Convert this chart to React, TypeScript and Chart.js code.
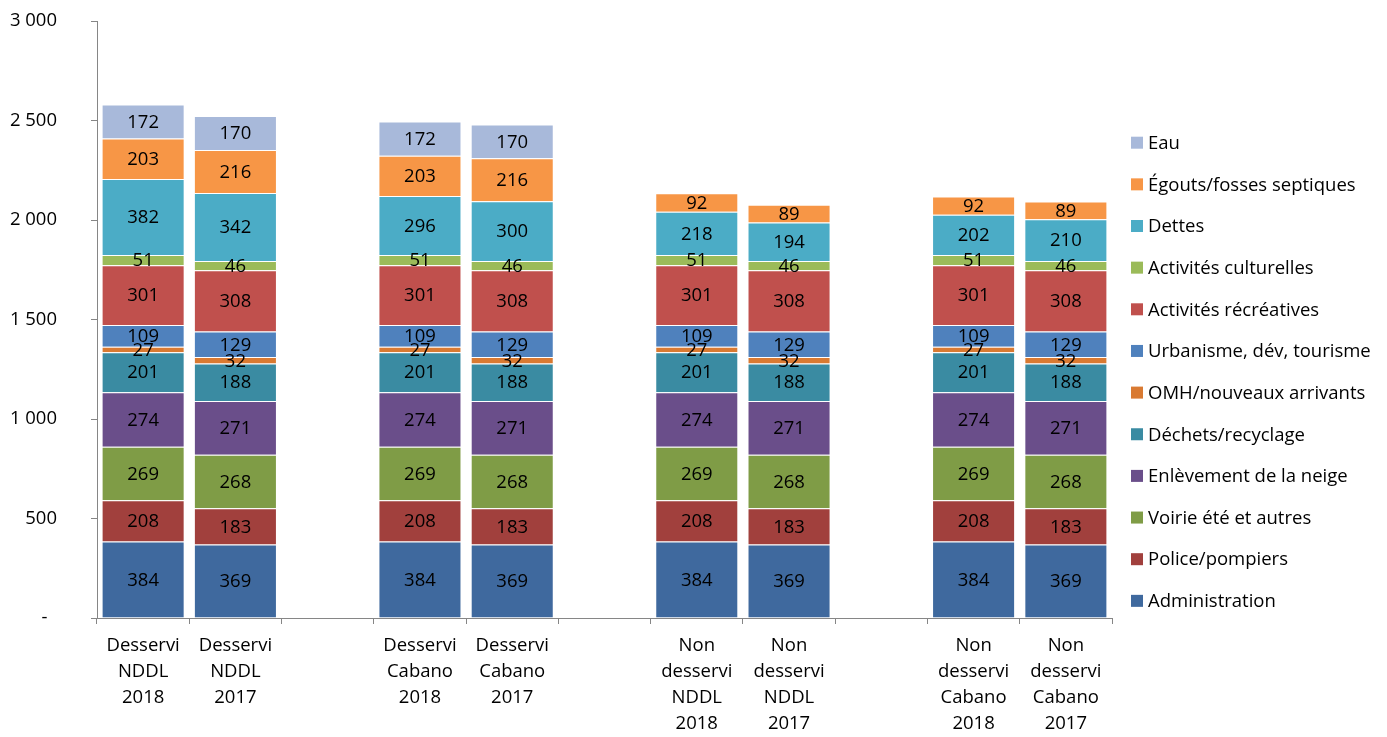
import React, { useEffect, useRef } from "react";
import { Chart, registerables } from "chart.js";

Chart.register(...registerables);

const categories: (string | string[])[] = [
  ["Desservi", "NDDL", "2018"],
  ["Desservi", "NDDL", "2017"],
  "",
  ["Desservi", "Cabano", "2018"],
  ["Desservi", "Cabano", "2017"],
  "",
  ["Non", "desservi", "NDDL", "2018"],
  ["Non", "desservi", "NDDL", "2017"],
  "",
  ["Non", "desservi", "Cabano", "2018"],
  ["Non", "desservi", "Cabano", "2017"],
];

const administration = [384, 369, null, 384, 369, null, 384, 369, null, 384, 369];
const police = [208, 183, null, 208, 183, null, 208, 183, null, 208, 183];
const voirie = [269, 268, null, 269, 268, null, 269, 268, null, 269, 268];
const neige = [274, 271, null, 274, 271, null, 274, 271, null, 274, 271];
const dechets = [201, 188, null, 201, 188, null, 201, 188, null, 201, 188];
const omh = [27, 32, null, 27, 32, null, 27, 32, null, 27, 32];
const urbanisme = [109, 129, null, 109, 129, null, 109, 129, null, 109, 129];
const recreatives = [301, 308, null, 301, 308, null, 301, 308, null, 301, 308];
const culturelles = [51, 46, null, 51, 46, null, 51, 46, null, 51, 46];
const dettes = [382, 342, null, 296, 300, null, 218, 194, null, 202, 210];
const egouts = [203, 216, null, 203, 216, null, 92, 89, null, 92, 89];
const eau = [172, 170, null, 172, 170, null, null, null, null, null, null];

const seriesNames = [
  "Administration",
  "Police/pompiers",
  "Voirie été et autres",
  "Enlèvement de la neige",
  "Déchets/recyclage",
  "OMH/nouveaux arrivants",
  "Urbanisme, dév, tourisme",
  "Activités récréatives",
  "Activités culturelles",
  "Dettes",
  "Égouts/fosses septiques",
  "Eau",
];
const seriesValues = [
  administration, police, voirie, neige, dechets, omh,
  urbanisme, recreatives, culturelles, dettes, egouts, eau,
];
const seriesColors = [
  "#3F699E", "#A1403D", "#7F9C46", "#6A4E8A", "#3A8BA2", "#D97A32",
  "#4F81BD", "#C0504D", "#9BBB59", "#4BACC6", "#F79646", "#A8B9DA",
];

const yTicks = [0, 500, 1000, 1500, 2000, 2500, 3000];

const FONT = "'Open Sans', sans-serif";
const FS = 18.5;

function fmt(v: number): string {
  if (v === 0) return "-  ";
  if (v >= 1000) {
    const th = Math.floor(v / 1000);
    const r = String(v % 1000).padStart(3, "0");
    return th + " " + r;
  }
  return String(v);
}

const dataLabelPlugin = {
  id: "dataLabels",
  afterDatasetsDraw(chart: any) {
    const ctx = chart.ctx;
    ctx.save();
    ctx.font = `${FS}px ${FONT}`;
    ctx.fillStyle = "#000000";
    ctx.textAlign = "center";
    ctx.textBaseline = "middle";
    chart.data.datasets.forEach((ds: any, di: number) => {
      const meta = chart.getDatasetMeta(di);
      meta.data.forEach((el: any, i: number) => {
        const v = ds.data[i];
        if (v === null || v === undefined || v === 0) return;
        const p = el.getProps(["x", "y", "base"], true);
        ctx.fillText(String(v), p.x, (p.y + p.base) / 2 + 1);
      });
    });
    ctx.restore();
  },
};

const legendPlugin = {
  id: "customLegend",
  afterDraw(chart: any) {
    const ctx = chart.ctx;
    const area = chart.chartArea;
    const ds = chart.data.datasets;
    const n = ds.length;
    const spacing = 41.65;
    const startY = 142.7;
    const boxX = area.right + 19;
    ctx.save();
    ctx.font = `${FS}px ${FONT}`;
    ctx.textAlign = "left";
    ctx.textBaseline = "middle";
    for (let k = 0; k < n; k++) {
      const d = ds[n - 1 - k];
      const cy = startY + k * spacing;
      ctx.fillStyle = d.backgroundColor;
      ctx.fillRect(boxX, cy - 6, 12, 12);
      ctx.fillStyle = "#000000";
      ctx.fillText(d.label, boxX + 17, cy + 1);
    }
    ctx.restore();
  },
};

export default function App() {
  const ref = useRef<HTMLCanvasElement | null>(null);

  useEffect(() => {
    if (!ref.current) return;
    const chart = new Chart(ref.current, {
      type: "bar",
      data: {
        labels: categories,
        datasets: seriesNames.map((name, i) => ({
          label: name,
          data: seriesValues[i],
          backgroundColor: seriesColors[i],
          borderColor: "rgba(255,255,255,0.35)",
          borderWidth: 1,
          barPercentage: 0.9,
          categoryPercentage: 1.0,
        })),
      },
      options: {
        animation: false,
        responsive: false,
        devicePixelRatio: 1,
        layout: { padding: { left: 0, right: 275, top: 21, bottom: 0 } },
        plugins: {
          legend: { display: false },
          tooltip: { enabled: false },
        },
        scales: {
          x: {
            stacked: true,
            grid: {
              display: true,
              offset: true,
              drawOnChartArea: false,
              drawTicks: true,
              tickLength: 6,
              color: "#868686",
            },
            border: { display: true, color: "#868686", width: 1 },
            ticks: {
              autoSkip: false,
              maxRotation: 0,
              minRotation: 0,
              padding: 9,
              color: "#000000",
              font: { family: FONT, size: FS, lineHeight: 26 / FS },
            },
            afterFit: (scale: any) => {
              scale.height = 119;
              scale.paddingLeft = 0;
              scale.paddingRight = 0;
            },
          },
          y: {
            stacked: true,
            min: 0,
            max: 3000,
            afterBuildTicks: (scale: any) => {
              scale.ticks = yTicks.map((v) => ({ value: v }));
            },
            grid: {
              display: true,
              drawOnChartArea: false,
              drawTicks: true,
              tickLength: 6,
              color: "#868686",
            },
            border: { display: true, color: "#868686", width: 1 },
            ticks: {
              padding: 34,
              color: "#000000",
              font: { family: FONT, size: FS },
              callback: (v: any) => fmt(Number(v)),
            },
            afterFit: (scale: any) => {
              scale.width = 97;
              scale.paddingTop = 0;
              scale.paddingBottom = 0;
            },
          },
        },
      },
      plugins: [dataLabelPlugin, legendPlugin],
    });
    return () => chart.destroy();
  }, []);

  return (
    <div style={{ position: "absolute", left: 0, top: 0, width: 1387, height: 737, background: "#ffffff" }}>
      <canvas ref={ref} width={1387} height={737} style={{ display: "block", width: 1387, height: 737 }} />
    </div>
  );
}
